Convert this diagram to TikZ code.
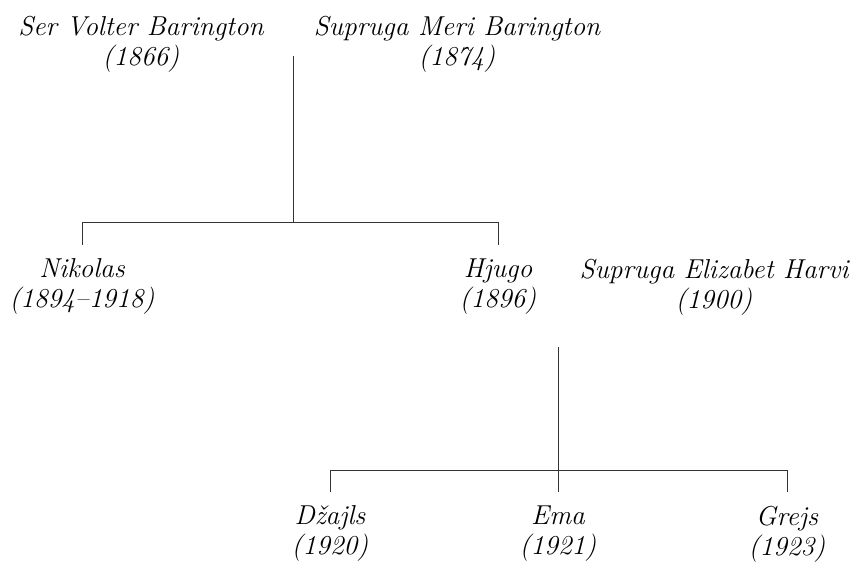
\documentclass[tikz,border=0pt]{standalone}
\usepackage{fontspec}
\usepackage{tikz}

\begin{document}
\begin{tikzpicture}[x=0.75pt,y=0.75pt]
\tikzstyle{every node}+=[inner xsep=0pt, inner ysep=10.5pt, outer sep=0pt]
\tikzstyle{person}=[anchor=north, align=center, font=\fontsize{20.5}{22.5}\selectfont\itshape]
\tikzstyle{tie}=[black!80, line width=0.75pt]
\useasboundingbox (0,0) rectangle (863,-570);
% parents
\node [person] (volter) at (141,-2) {Ser Volter Barington\\(1866)};
\node [person] (meri) at (457,-2) {Supruga Meri Barington\\(1874)};
\coordinate (vm) at (293,-56);
\coordinate (vmj) at (293,-223);
% sons
\node [person] (nikolas) at (82,-245) {Nikolas\\(1894--1918)};
\node [person] (hjugo) at (498,-245) {Hjugo\\(1896)};
\node [person] (elizabet) at (714,-245) {Supruga Elizabet Harvi\\(1900)};
\coordinate (he) at (558,-347);
\coordinate (hej) at (558,-470);
% grandchildren
\node [person] (dzajls) at (330,-492) {Džajls\\(1920)};
\node [person] (ema) at (558,-492) {Ema\\(1921)};
\node [person] (grejs) at (787,-492) {Grejs\\(1923)};
% lines
\draw [tie] (vm) -- (vmj);
\draw [tie] (nikolas.north) -- (nikolas.north |- vmj) -- (hjugo.north |- vmj) -- (hjugo.north);
\draw [tie] (he) -- (ema.north);
\draw [tie] (dzajls.north) -- (dzajls.north |- hej) -- (grejs.north |- hej) -- (grejs.north);
\end{tikzpicture}
\end{document}
